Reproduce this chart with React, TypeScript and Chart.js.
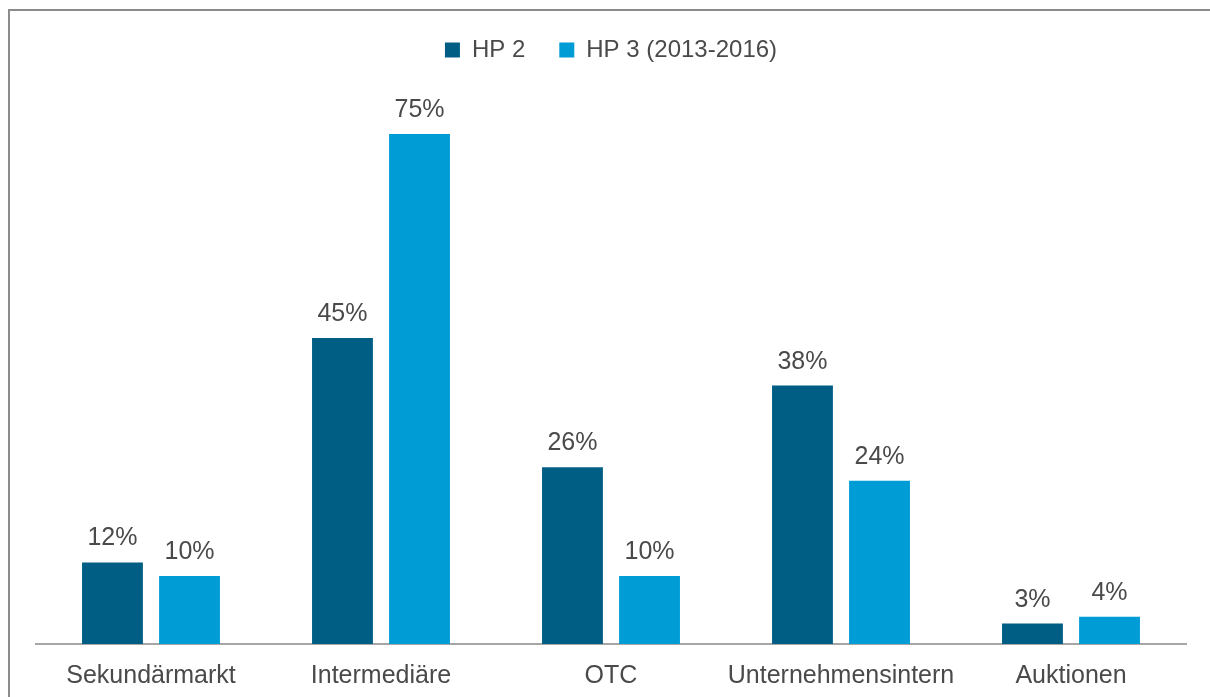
import React, { useEffect, useRef } from "react";
import { Chart, registerables } from "chart.js";

Chart.register(...registerables);

const categories = ["Sekundärmarkt", "Intermediäre", "OTC", "Unternehmensintern", "Auktionen"];
const seriesNames = ["HP 2", "HP 3 (2013-2016)"];
const hp2Values = [12, 45, 26, 38, 3];
const hp3Values = [10, 75, 10, 24, 4];
const seriesColors = ["#005e85", "#009cd6"];

const FONT = "'Liberation Sans', Arial, sans-serif";
const TEXT = "#4a4a4a";

const valueLabels = {
  id: "valueLabels",
  afterDatasetsDraw(chart: any) {
    const ctx = chart.ctx;
    ctx.save();
    ctx.font = `25px ${FONT}`;
    ctx.fillStyle = TEXT;
    ctx.textAlign = "center";
    ctx.textBaseline = "alphabetic";
    chart.data.datasets.forEach((ds: any, di: number) => {
      const meta = chart.getDatasetMeta(di);
      meta.data.forEach((el: any, i: number) => {
        ctx.fillText(`${ds.data[i]}%`, el.x, el.y - 17);
      });
    });
    ctx.restore();
  },
};

export default function App() {
  const ref = useRef<HTMLCanvasElement>(null);
  useEffect(() => {
    document.body.style.overflow = "hidden";
    const chart = new Chart(ref.current!, {
      type: "bar",
      data: {
        labels: categories,
        datasets: [
          { label: seriesNames[0], data: hp2Values, backgroundColor: seriesColors[0] },
          { label: seriesNames[1], data: hp3Values, backgroundColor: seriesColors[1] },
        ],
      },
      options: {
        responsive: false,
        animation: false,
        devicePixelRatio: 1,
        layout: { padding: { left: 36, right: 24, top: 4, bottom: 0 } },
        datasets: { bar: { categoryPercentage: 0.67, barPercentage: 0.79 } },
        plugins: {
          legend: {
            position: "top",
            labels: {
              boxWidth: 15,
              boxHeight: 15,
              padding: 34,
              color: TEXT,
              font: { family: FONT, size: 24 },
            },
          },
          tooltip: { enabled: false },
        },
        scales: {
          x: {
            grid: { display: false },
            border: { display: true, color: "#a6a6a6", width: 2 },
            ticks: { color: TEXT, font: { family: FONT, size: 25 }, padding: 9, maxRotation: 0 },
            afterFit: (scale: any) => {
              scale.height = 53;
            },
          },
          y: { display: false, min: 0, max: 84.1 },
        },
      },
      plugins: [valueLabels],
    });
    return () => chart.destroy();
  }, []);

  return (
    <div style={{ position: "fixed", left: 0, top: 0, width: 1210, height: 697, overflow: "hidden", background: "#fff" }}>
      <div
        style={{
          position: "absolute",
          left: 8,
          top: 9,
          width: 1240,
          height: 740,
          border: "2px solid #8c8c8c",
          boxSizing: "border-box",
        }}
      />
      <canvas ref={ref} width={1210} height={697} style={{ position: "absolute", left: 0, top: 0 }} />
    </div>
  );
}
